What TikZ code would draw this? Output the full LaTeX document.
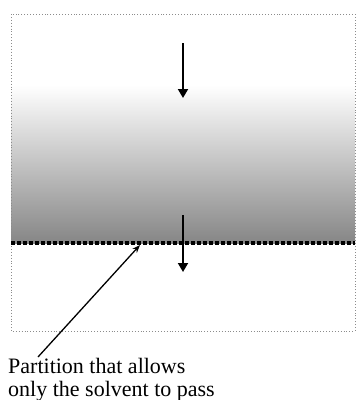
\documentclass[tikz,border=0pt]{standalone}
\usepackage{fontspec}
\setmainfont{Liberation Serif}
\usetikzlibrary{arrows.meta, positioning}

\begin{document}
\begin{tikzpicture}[
            x=1pt, y=-1pt,
            every node/.style={font=\fontsize{22}{23}\selectfont},
            frame/.style={
                draw=gray!90,
                dotted,
                line width=0.9pt
            },
            partition/.style={
                draw=black,
                line width=3.5pt,
                dash pattern=on 3.5pt off 2.5pt
            },
            flow/.style={-{Triangle[width=10pt,length=9pt]}, line width=1.8pt},
            pointer/.style={-{Stealth[width=6pt,length=8pt]}, line width=1.3pt}
        ]
        \useasboundingbox (0,0) rectangle (356,400);

        % Solution
        \fill[white] (11,14) rectangle (355,85);
        \shade[top color=white, bottom color=gray!95] (11,85) rectangle (355,243);

        % Nodes
        \draw[frame] (11,14) rectangle (355,331);
        \draw[partition] (11,243) -- (355,243);

        \coordinate (top1) at (183,43);
        \coordinate (bot1) at (183,98);
        \coordinate (top2) at (183,215);
        \coordinate (bot2) at (183,272);
        \coordinate (wall) at (140,245);

        \node[anchor=north west, align=left, inner sep=0pt] (label) at (8,358)
            {Partition that allows\\only the solvent to pass};
        \coordinate (tail) at (38,357);

        % Arrows
        \draw[flow] (top1) -- (bot1);
        \draw[flow] (top2) -- (bot2);
        \draw[pointer] (tail) -- (wall);

        \end{tikzpicture}
\end{document}
